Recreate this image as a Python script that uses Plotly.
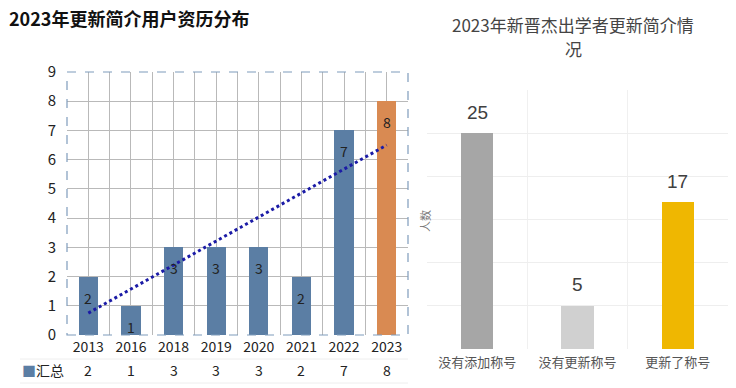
import numpy as np
import plotly.graph_objects as go

# ---------------- data ----------------
years = ["2013", "2016", "2018", "2019", "2020", "2021", "2022", "2023"]
counts = [2, 1, 3, 3, 3, 2, 7, 8]
series_name = "汇总"

status_labels = ["没有添加称号", "没有更新称号", "更新了称号"]
status_counts = [25, 5, 17]

left_title = "2023年更新简介用户资历分布"
right_title_lines = ["2023年新晋杰出学者更新简介情", "况"]
right_ytitle = "人数"

# ---------------- style ----------------
W, H = 736, 388
CJK = "Noto Sans CJK SC"
blue = "#5b7ea4"
orange = "#d98a52"
bar_colors_left = [blue] * (len(years) - 1) + [orange]
bar_colors_right = ["#a6a6a6", "#d0d0d0", "#efb701"]


def px(x):
    return x / W


def py(y):
    return 1 - y / H


fig = go.Figure()

xi = list(range(len(years)))
fig.add_trace(go.Bar(
    x=xi, y=counts, marker=dict(color=bar_colors_left, line=dict(width=0)),
    width=0.45, xaxis="x", yaxis="y", showlegend=False, hoverinfo="skip",
))

# linear trendline computed from the data
coef = np.polyfit(xi, counts, 1)
tx = [xi[0], xi[-1]]
ty = list(np.polyval(coef, tx))
fig.add_trace(go.Scatter(
    x=tx, y=ty, mode="lines", line=dict(color="#1b1ba6", width=3, dash="dot"),
    xaxis="x", yaxis="y", showlegend=False, hoverinfo="skip",
))

# right chart
ri = list(range(len(status_labels)))
fig.add_trace(go.Bar(
    x=ri, y=status_counts, marker=dict(color=bar_colors_right, line=dict(width=0)),
    width=0.32, xaxis="x2", yaxis="y2", showlegend=False, hoverinfo="skip",
))

annotations = []
# left value labels inside bars near top
for i, v in zip(xi, counts):
    annotations.append(dict(x=i, y=v, xref="x", yref="y", text=str(v), showarrow=False,
                            xanchor="center", yanchor="middle", yshift=-21,
                            font=dict(family=CJK, size=14, color="#222")))
# left data table row
annotations.append(dict(x=px(20), y=py(370), xref="paper", yref="paper",
                        text=f"<span style='color:{blue}'>■</span>{series_name}", showarrow=False,
                        xanchor="left", yanchor="middle",
                        font=dict(family=CJK, size=14, color="#222")))
for i, v in zip(xi, counts):
    annotations.append(dict(x=i, y=py(370), xref="x", yref="paper", text=str(v), showarrow=False,
                            xanchor="center", yanchor="middle",
                            font=dict(family=CJK, size=14, color="#222")))
# left title
annotations.append(dict(x=px(7), y=py(18), xref="paper", yref="paper", text=left_title,
                        showarrow=False, xanchor="left", yanchor="middle",
                        font=dict(family=CJK, size=18, color="#111", weight=600)))
# right value labels above bars
for i, v in zip(ri, status_counts):
    annotations.append(dict(x=i, y=v, xref="x2", yref="y2", text=str(v), showarrow=False,
                            xanchor="center", yanchor="middle", yshift=21,
                            font=dict(family="Liberation Sans, Arial", size=19, color="#404040")))
# right title (two lines)
for line, yy in zip(right_title_lines, [25, 48]):
    annotations.append(dict(x=px(573), y=py(yy), xref="paper", yref="paper",
                            text=line, showarrow=False, xanchor="center", yanchor="middle",
                            font=dict(family=CJK, size=17, color="#444")))
# right y title
annotations.append(dict(x=px(425), y=py(221), xref="paper", yref="paper", text=right_ytitle,
                        textangle=-90, showarrow=False, xanchor="center", yanchor="middle",
                        font=dict(family=CJK, size=11, color="#777")))

shapes = [
    dict(type="rect", xref="x domain", yref="y domain", x0=0, x1=1, y0=0, y1=1,
         line=dict(color="#7f9cbc", width=1.2, dash="dash"), layer="above"),
    # faint table lines under the left chart
    dict(type="line", xref="paper", yref="paper", x0=px(20), x1=px(408), y0=py(359), y1=py(359),
         line=dict(color="#eeeeee", width=1)),
    dict(type="line", xref="paper", yref="paper", x0=px(20), x1=px(408), y0=py(383), y1=py(383),
         line=dict(color="#eeeeee", width=1)),
]

fig.update_layout(
    width=W, height=H,
    margin=dict(l=0, r=0, t=0, b=0),
    paper_bgcolor="white", plot_bgcolor="white",
    bargap=0,
    annotations=annotations,
    shapes=shapes,
    xaxis=dict(
        domain=[px(67), px(408)], range=[-0.5, len(years) - 0.5],
        tickmode="array", tickvals=xi, ticktext=years,
        showgrid=True, gridcolor="#b9b9b9", gridwidth=1,
        minor=dict(tick0=-0.5, dtick=1, showgrid=True, gridcolor="#b9b9b9", gridwidth=1),
        zeroline=False, showline=False, ticks="", automargin=False, ticklabelstandoff=2,
        tickfont=dict(family=CJK, size=14, color="#222"), fixedrange=True,
    ),
    yaxis=dict(
        domain=[py(335), py(72)], range=[0, 9], dtick=1,
        showgrid=True, gridcolor="#b9b9b9", gridwidth=1,
        zeroline=False, showline=False, ticks="", ticklabelstandoff=10, automargin=False,
        tickfont=dict(family=CJK, size=15, color="#222"), fixedrange=True,
    ),
    xaxis2=dict(
        domain=[px(427), px(728)], range=[-0.5, len(status_labels) - 0.5],
        anchor="y2",
        tickmode="array", tickvals=ri, ticktext=status_labels,
        showgrid=False,
        minor=dict(tick0=-0.5, dtick=1, showgrid=True, gridcolor="#f0f0f0", gridwidth=1),
        zeroline=False, showline=False, ticks="", ticklabelstandoff=4, automargin=False,
        tickfont=dict(family=CJK, size=13, color="#555"), fixedrange=True,
    ),
    yaxis2=dict(
        domain=[py(349), py(90)], range=[0, 30], dtick=5, anchor="x2",
        showgrid=True, gridcolor="#eeeeee", gridwidth=1, automargin=False,
        zeroline=False, showline=False, showticklabels=False, ticks="",
        fixedrange=True,
    ),
)

fig.write_html("out.html", config={"displayModeBar": False},
               post_script="document.body.style.margin='0';")
